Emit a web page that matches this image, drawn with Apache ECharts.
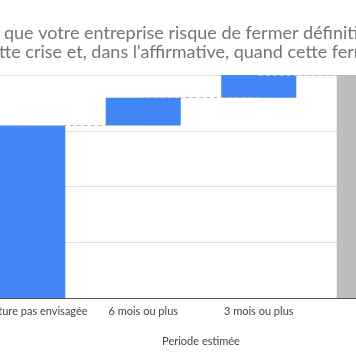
<!DOCTYPE html>
<html><head><meta charset="utf-8">
<script src="https://cdn.jsdelivr.net/npm/echarts@6/dist/echarts.min.js"></script>
<style>html,body{margin:0;padding:0;overflow:hidden;width:356px;height:364px;background:#fff}
#c{position:absolute;left:-100px;top:0;width:556px;height:364px}</style>
</head><body><div id="c"></div>
<script>
const categories = ['Fermeture pas envisagée', '6 mois ou plus', '3 mois ou plus', 'Total'];
const steps = [77.3, 12.5, 10.2];
const total = 100;
const yTicks = [0, 25, 50, 75, 100];
const axisName = 'Periode estimée';
const titleLine1a = 'Pensez-vous ';
const titleLine1b = 'que votre entreprise risque de fermer définitivement à cause de';
const titleLine2a = 'ce';
const titleLine2b = "tte crise et, dans l'affirmative, quand cette fermeture pourrait intervenir ?";

const base = [], vals = [];
let cum = 0;
steps.forEach(v => { base.push(cum); vals.push({value: v, itemStyle: {color: '#4285F4'}}); cum += v; });
base.push(0);
vals.push({value: total, itemStyle: {color: '#BDBDBD'}});
const connectors = [];
let c2 = 0;
steps.forEach((v, i) => { c2 += v; connectors.push([{coord: [i, c2]}, {coord: [i + 1, c2]}]); });

const font = 'Lato, sans-serif';
const tStyle = {fontFamily: font, fontSize: 18, lineHeight: 20, fontWeight: 'normal', color: '#757575'};
const chart = echarts.init(document.getElementById('c'), null, {renderer: 'canvas'});
chart.setOption({
  animation: false,
  title: [
    {text: titleLine1b, left: 104, top: 23, padding: 0, textAlign: 'left', textStyle: tStyle},
    {text: titleLine1a, left: 104, top: 23, padding: 0, textAlign: 'right', textStyle: tStyle},
    {text: titleLine2b, left: 99, top: 42, padding: 0, textAlign: 'left', textStyle: tStyle},
    {text: titleLine2a, left: 99, top: 42, padding: 0, textAlign: 'right', textStyle: tStyle}
  ],
  grid: {left: 70, right: 24, top: 75, bottom: 66, containLabel: false},
  xAxis: {
    type: 'category', data: categories,
    name: axisName, nameLocation: 'middle', nameGap: 38,
    nameTextStyle: {fontFamily: font, fontSize: 11, color: '#444'},
    axisLine: {lineStyle: {color: '#555', width: 1}},
    axisTick: {show: false},
    axisLabel: {fontFamily: font, fontSize: 11, color: '#444', margin: 8, interval: 0}
  },
  yAxis: {
    type: 'value', min: 0, max: 100, interval: 25,
    axisLine: {show: false}, axisTick: {show: false},
    axisLabel: {fontFamily: font, fontSize: 11, color: '#444', formatter: v => yTicks.includes(v) ? v + ' %' : ''},
    splitLine: {lineStyle: {color: '#e0e0e0', width: 1}}
  },
  series: [
    {type: 'bar', stack: 'w', data: base, itemStyle: {color: 'transparent'}, barCategoryGap: '35%', z: 2, silent: true,
     markLine: {symbol: 'none', silent: true, label: {show: false}, lineStyle: {color: '#bdbdbd', type: [4, 3], width: 1}, data: connectors}},
    {type: 'bar', stack: 'w', data: vals, barCategoryGap: '35%', z: 3}
  ]
});
</script></body></html>
